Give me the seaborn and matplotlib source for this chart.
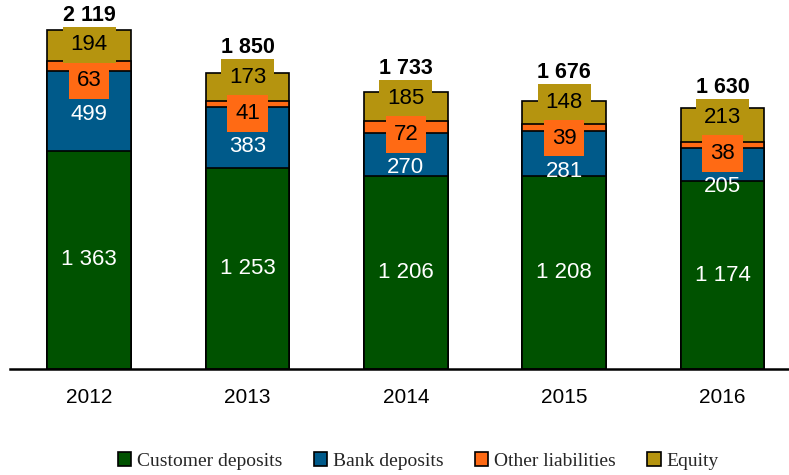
import numpy as np
import pandas as pd
import seaborn as sns
from matplotlib import pyplot as plt
from matplotlib.patches import Patch

# 데이터
years = ['2012', '2013', '2014', '2015', '2016']
customer_deposits = [1363, 1253, 1206, 1208, 1174]
bank_deposits = [499, 383, 270, 281, 205]
other_liabilities = [63, 41, 72, 39, 38]
equity = [194, 173, 185, 148, 213]
totals = [2119, 1850, 1733, 1676, 1630]

series_names = ['Customer deposits', 'Bank deposits', 'Other liabilities', 'Equity']
colors = ['#005200', '#005A8A', '#FF6A14', '#B5940F']

sns.set_theme(style='white')
plt.rcParams['font.family'] = ['Liberation Sans', 'DejaVu Sans']

fig = plt.figure(figsize=(7.89, 4.75), dpi=100)
ax = fig.add_axes([10 / 789, 1 - 369 / 475, 779 / 789, 369 / 475])

YMAX = 2306
px = YMAX / 369  # 픽셀당 데이터 단위

# 누적값
layers = [customer_deposits, bank_deposits, other_liabilities, equity]
cum = np.cumsum(np.array(layers), axis=0)

# 위쪽(누적 큰 값)부터 그리고 아래 누적을 덮어씌움
for i in range(3, -1, -1):
    df = pd.DataFrame({'year': years, 'value': cum[i]})
    sns.barplot(data=df, x='year', y='value', color=colors[i], width=0.53,
                edgecolor='black', linewidth=1.2, saturation=1, ax=ax)

ax.set_xlim(-0.5, 4.42)
ax.set_ylim(0, YMAX)
ax.set_xlabel('')
ax.set_ylabel('')
ax.set_yticks([])
for side in ['left', 'right', 'top']:
    ax.spines[side].set_visible(False)
ax.spines['bottom'].set_color('black')
ax.spines['bottom'].set_linewidth(1.8)
ax.tick_params(axis='x', length=0, labelsize=15, pad=14, colors='black')

fmt = lambda v: f'{v:,}'.replace(',', ' ')
gap_eq = 36 * px   # 자본 라벨 - 기타부채 라벨 최소 간격
gap_bank = 33 * px  # 기타부채 라벨 - 은행예금 라벨 최소 간격
eq_limit = YMAX - 45 * px  # 합계 라벨이 잘리지 않도록

for j in range(len(years)):
    c0 = customer_deposits[j] / 2
    bank_y = customer_deposits[j] + bank_deposits[j] / 2
    oth_y = cum[1][j] + other_liabilities[j] / 2
    eq_y = cum[2][j] + equity[j] / 2

    # 라벨 겹침 해소 (대칭으로 밀어내기)
    for _ in range(10):
        d = eq_y - oth_y
        if d < gap_eq:
            eq_y += (gap_eq - d) / 2
            oth_y -= (gap_eq - d) / 2
        d = oth_y - bank_y
        if d < gap_bank:
            bank_y -= (gap_bank - d)
    if eq_y > eq_limit:
        eq_y = eq_limit
        oth_y = min(oth_y, eq_y - gap_eq)
        bank_y = min(bank_y, oth_y - gap_bank)

    ax.text(j, c0, fmt(customer_deposits[j]), ha='center', va='center',
            color='white', fontsize=16)
    ax.text(j, bank_y, fmt(bank_deposits[j]), ha='center', va='center',
            color='white', fontsize=16)
    ax.text(j, eq_y, fmt(equity[j]), ha='center', va='center', color='black',
            fontsize=16, bbox=dict(boxstyle='square,pad=0.35', fc=colors[3], ec='none'))
    ax.text(j, oth_y, fmt(other_liabilities[j]), ha='center', va='center', color='black',
            fontsize=16, bbox=dict(boxstyle='square,pad=0.35', fc=colors[2], ec='none'))
    ax.text(j, eq_y + 30 * px, fmt(totals[j]), ha='center', va='center',
            color='black', fontsize=15.5, fontweight='bold')

handles = [Patch(facecolor=c, edgecolor='black', linewidth=1.2) for c in colors]
fig.legend(handles, series_names, loc='center', bbox_to_anchor=(0.53, 0.03),
           ncol=4, frameon=False, handlelength=0.7, handleheight=0.7,
           handletextpad=0.3, columnspacing=1.6,
           prop={'family': 'Liberation Serif', 'size': 14})

fig.savefig('out.png', dpi=100)
